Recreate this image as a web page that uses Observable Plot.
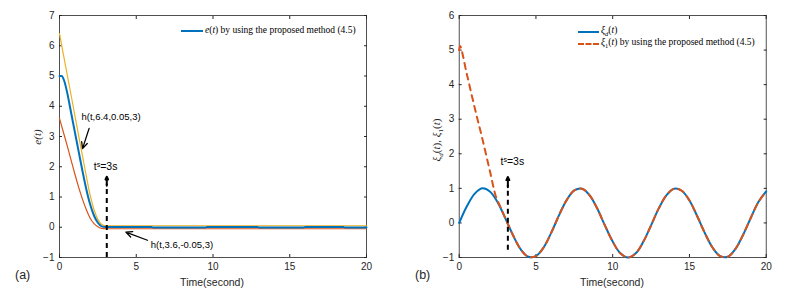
<!DOCTYPE html>
<html><head><meta charset="utf-8">
<script src="https://cdn.jsdelivr.net/npm/d3@7"></script>
<script src="https://cdn.jsdelivr.net/npm/@observablehq/plot@0.6"></script>
<style>
body{margin:0;background:#fff;}
#wrap{position:relative;width:787px;height:292px;overflow:hidden;font-family:"Liberation Sans",Arial,sans-serif;color:#262626;}
.panel{position:absolute;top:0;}
.lbl{position:absolute;white-space:nowrap;color:#262626;line-height:1;}
.rot{transform:translate(-50%,-50%) rotate(-90deg);}
.leg{position:absolute;font-family:"Liberation Serif","DejaVu Serif",serif;font-size:9.5px;color:#000;white-space:nowrap;line-height:1;}
.sw{position:absolute;height:0;}
</style>
</head><body>
<div id="wrap"></div>
<script>
// ---- Panel (a) data ----
const xTicks = [0, 5, 10, 15, 20];
const yTicksA = [-1, 0, 1, 2, 3, 4, 5, 6, 7];
const yTicksB = [-1, 0, 1, 2, 3, 4, 5, 6];

const eTime  = [0, 0.15, 0.3, 0.5, 0.75, 1, 1.25, 1.5, 1.75, 2, 2.25, 2.5, 2.75, 3, 6, 6.1, 9.5, 9.6, 12.9, 13, 15.9, 16, 18.5, 18.6, 20];
const eValue = [5, 5, 4.85, 4.45, 3.8, 3.15, 2.5, 1.85, 1.25, 0.75, 0.38, 0.15, 0.03, 0.01, 0.01, -0.01, -0.01, 0.01, 0.01, -0.01, -0.01, 0.01, 0.01, -0.01, -0.01];

const hTime     = [0, 0.25, 0.5, 0.75, 1, 1.25, 1.5, 1.75, 2, 2.25, 2.5, 2.75, 3, 20];
const hUpValue  = [6.4, 5.72, 5.05, 4.38, 3.7, 3.02, 2.35, 1.68, 1.05, 0.58, 0.26, 0.09, 0.05, 0.05];
const hLowValue = [3.6, 3.15, 2.7, 2.23, 1.76, 1.32, 0.92, 0.58, 0.3, 0.12, 0.02, -0.04, -0.05, -0.05];

// annotations (a)
const noteTextA = ["h(t,6.4,0.05,3)", "h(t,3.6,-0.05,3)", "tˢ=3s"];
const noteXA = [1.43, 5.95, 2.23];
const noteYA = [3.64, -0.6, 2.0];
const arrowA = [ {x1: 1.93, y1: 3.27, x2: 1.5, y2: 2.6}, {x1: 5.73, y1: -0.43, x2: 4.32, y2: -0.16} ];
const settleA = {t: 3.08, from: -1, to: 1.67};

// ---- Panel (b) data ----
const refTime  = [0,0.5,1,1.5,2,2.5,3,3.5,4,4.5,5,5.5,6,6.5,7,7.5,8,8.5,9,9.5,10,10.5,11,11.5,12,12.5,13,13.5,14,14.5,15,15.5,16,16.5,17,17.5,18,18.5,19,19.5,20];
const refValue = [0,0.48,0.84,1.0,0.91,0.6,0.14,-0.35,-0.76,-0.98,-0.96,-0.71,-0.28,0.22,0.66,0.94,0.99,0.8,0.41,-0.08,-0.54,-0.88,-1.0,-0.88,-0.54,-0.07,0.42,0.8,0.99,0.93,0.65,0.2,-0.29,-0.71,-0.96,-0.98,-0.75,-0.34,0.15,0.61,0.91];
const estTime  = [0,0.06,0.5,1,1.5,2,2.4,2.7,3,3.5,4,4.5,5,5.5,6,6.5,7,7.5,8,8.5,9,9.5,10,10.5,11,11.5,12,12.5,13,13.5,14,14.5,15,15.5,16,16.5,17,17.5,18,18.5,19,19.5,20];
const estValue = [5.0,5.12,4.3,3.35,2.45,1.5,0.75,0.45,0.14,-0.35,-0.76,-0.98,-0.96,-0.71,-0.28,0.22,0.66,0.94,0.99,0.8,0.41,-0.08,-0.54,-0.88,-1.0,-0.88,-0.54,-0.07,0.42,0.8,0.99,0.93,0.65,0.2,-0.29,-0.71,-0.96,-0.98,-0.75,-0.34,0.15,0.61,0.91];

const noteTextB = ["tˢ=3s"];
const noteXB = [2.69];
const noteYB = [1.76];
const settleB = {t: 3.17, from: -0.79, to: 1.33};

const BLUE = "#0072BD", ORANGE = "#D95319", YELLOW = "#EDB120", AX = "#262626";

const pts = (xs, ys) => xs.map((x, i) => ({x, y: ys[i]}));
const fmt = d3.format("d");

function frameAxes(yTicks) {
  return [
    Plot.axisX({ticks: xTicks, tickFormat: fmt, anchor: "bottom", tickSize: -3, tickPadding: 8, stroke: AX, fill: AX, label: null}),
    Plot.axisX({ticks: xTicks, anchor: "top", tickSize: -3, tickFormat: () => "", stroke: AX, label: null}),
    Plot.axisY({ticks: yTicks, tickFormat: fmt, anchor: "left", tickSize: -3, tickPadding: 8, stroke: AX, fill: AX, label: null}),
    Plot.axisY({ticks: yTicks, anchor: "right", tickSize: -3, tickFormat: () => "", stroke: AX, label: null}),
    Plot.frame({stroke: AX, strokeWidth: 0.8})
  ];
}

const common = {
  height: 292, marginTop: 15, marginBottom: 35,
  style: {fontFamily: "'Liberation Sans', Arial, sans-serif", fontSize: "10px", color: AX, background: "transparent"}
};

const settleMarks = (s) => [
  Plot.ruleX([s], {x: "t", y1: "from", y2: d => d.to - 0.25, stroke: "#000", strokeWidth: 2, strokeDasharray: "5,4"}),
  Plot.arrow([s], {x1: "t", x2: "t", y1: d => d.to - 0.3, y2: "to", stroke: "#000", strokeWidth: 2, headLength: 9, headAngle: 50})
];

const plotA = Plot.plot({
  ...common, width: 393, marginLeft: 59, marginRight: 27,
  x: {domain: [0, 20]},
  y: {domain: [-1, 7]},
  marks: [
    ...frameAxes(yTicksA),
    Plot.line(pts(hTime, hLowValue), {x: "x", y: "y", stroke: ORANGE, strokeWidth: 1.2, curve: "monotone-x"}),
    Plot.line(pts(hTime, hUpValue), {x: "x", y: "y", stroke: YELLOW, strokeWidth: 1.2, curve: "monotone-x"}),
    Plot.line(pts(eTime, eValue), {x: "x", y: "y", stroke: BLUE, strokeWidth: 2, curve: "monotone-x"}),
    ...settleMarks(settleA),
    Plot.arrow(arrowA, {x1: "x1", y1: "y1", x2: "x2", y2: "y2", stroke: "#000", strokeWidth: 1.3, headLength: 8, headAngle: 50}),
    Plot.text(noteTextA, {x: (d, i) => noteXA[i], y: (d, i) => noteYA[i], text: d => d, textAnchor: "start", fill: "#000", fontSize: (d, i) => i === 2 ? 10.5 : 9.5})
  ]
});

const plotB = Plot.plot({
  ...common, width: 393, marginLeft: 64.7, marginRight: 21.3,
  x: {domain: [0, 20]},
  y: {domain: [-1, 6]},
  marks: [
    ...frameAxes(yTicksB),
    Plot.line(pts(refTime, refValue), {x: "x", y: "y", stroke: BLUE, strokeWidth: 2, curve: "catmull-rom"}),
    Plot.line(pts(estTime, estValue), {x: "x", y: "y", stroke: ORANGE, strokeWidth: 2, strokeDasharray: "6,5", curve: "catmull-rom"}),
    ...settleMarks(settleB),
    Plot.text(noteTextB, {x: (d, i) => noteXB[i], y: (d, i) => noteYB[i], text: d => d, textAnchor: "start", fill: "#000", fontSize: 10.5})
  ]
});

const wrap = document.getElementById("wrap");
plotA.classList.add("panel"); plotA.style.left = "0px";
plotB.classList.add("panel"); plotB.style.left = "394px";
wrap.appendChild(plotA);
wrap.appendChild(plotB);

function addHTML(html) { wrap.insertAdjacentHTML("beforeend", html); }
// axis titles and panel tags
addHTML('<div class="lbl" style="left:212px;top:282px;transform:translate(-50%,-50%);font-size:10.5px;">Time(second)</div>');
addHTML('<div class="lbl" style="left:612px;top:282px;transform:translate(-50%,-50%);font-size:10.5px;">Time(second)</div>');
addHTML('<div class="lbl" style="left:15px;top:275px;transform:translate(0,-50%);font-size:12.5px;">(a)</div>');
addHTML('<div class="lbl" style="left:415px;top:275px;transform:translate(0,-50%);font-size:12.5px;">(b)</div>');
addHTML('<div class="lbl rot" style="left:37px;top:137px;font-family:\'Liberation Serif\',serif;font-style:italic;font-size:11px;">e(t)</div>');
addHTML('<div class="lbl rot" style="left:438px;top:140px;font-family:\'Liberation Serif\',serif;font-size:11px;"><i>ξ</i><sub style="font-size:7px;"><i>d</i></sub>(<i>t</i>), <i>ξ</i><sub style="font-size:7px;">1</sub>(<i>t</i>)</div>');
// legends
addHTML('<div class="sw" style="left:181px;top:30px;width:22px;border-top:2px solid ' + BLUE + ';"></div>');
addHTML('<div class="leg" style="left:205px;top:31px;transform:translate(0,-50%);"><i>e</i>(<i>t</i>) by using the proposed method (4.5)</div>');
addHTML('<div class="sw" style="left:578px;top:31px;width:21px;border-top:2px solid ' + BLUE + ';"></div>');
addHTML('<div class="sw" style="left:578px;top:43px;width:21px;border-top:2px dashed ' + ORANGE + ';"></div>');
addHTML('<div class="leg" style="left:601px;top:32px;transform:translate(0,-50%);"><i>ξ</i><sub style="font-size:6.5px;"><i>d</i></sub>(<i>t</i>)</div>');
addHTML('<div class="leg" style="left:601px;top:44px;transform:translate(0,-50%);"><i>ξ</i><sub style="font-size:6.5px;">1</sub>(<i>t</i>) by using the proposed method (4.5)</div>');
</script>
</body></html>
